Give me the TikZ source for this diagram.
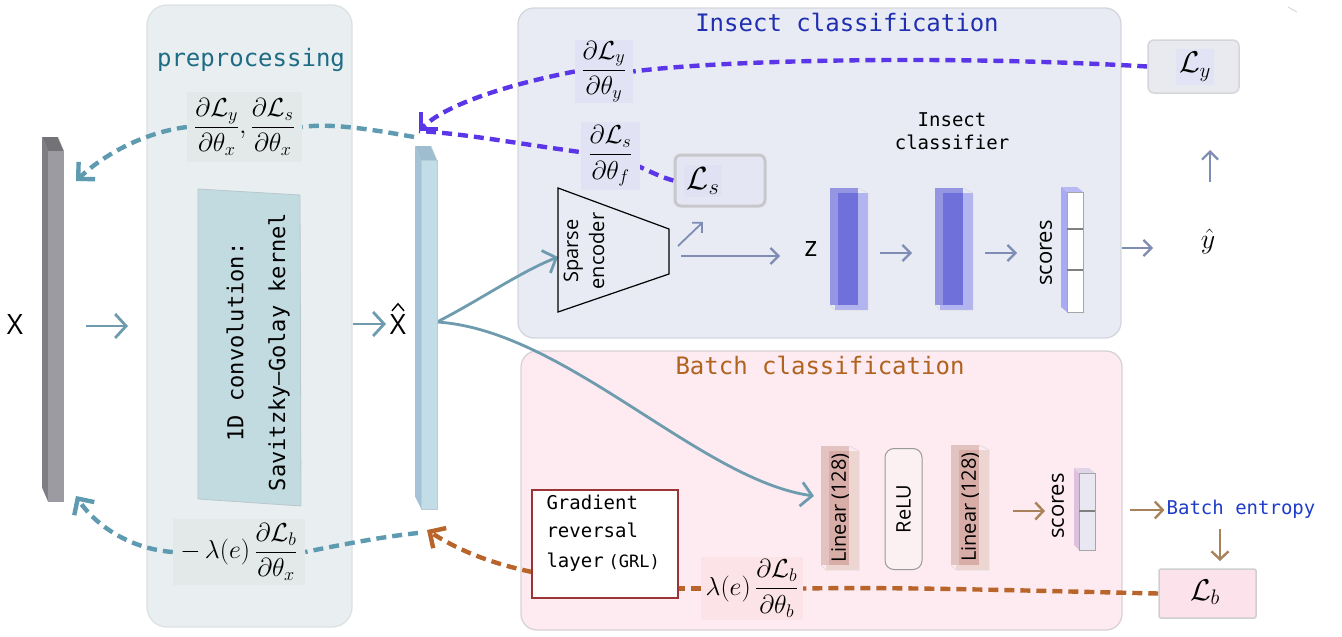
\RequirePackage{fix-cm}
\documentclass[tikz,border=0pt]{standalone}
\usepackage{amsmath}
\usepackage{fontspec}
\setsansfont{Open Sans}
\setmonofont{DejaVu Sans Mono}
\usetikzlibrary{arrows.meta,calc}
\pgfdeclarelayer{panels}
\pgfdeclarelayer{links}
\pgfsetlayers{panels,links,main}
\definecolor{prepF}{HTML}{E9EFF0}\definecolor{prepB}{HTML}{DCE2E3}
\definecolor{insF}{HTML}{E9EBF4}\definecolor{insB}{HTML}{D5D6DD}
\definecolor{batF}{HTML}{FDEBF1}\definecolor{batB}{HTML}{D9D2D5}
\definecolor{prepT}{HTML}{1E6B86}\definecolor{insT}{HTML}{1F2FB0}
\definecolor{batT}{HTML}{B0621F}\definecolor{entT}{HTML}{1E3CC8}
\definecolor{tealD}{HTML}{5E9AB0}\definecolor{tealS}{HTML}{6E9BAD}
\definecolor{purp}{HTML}{5B36E8}\definecolor{orng}{HTML}{B8642A}
\definecolor{gblue}{HTML}{7F8CB4}\definecolor{brn}{HTML}{A8825A}
\definecolor{convF}{HTML}{C1DBE0}\definecolor{convB}{HTML}{B8C8CC}
\definecolor{grlB}{HTML}{9B3535}
\definecolor{gbox}{HTML}{E3E8E9}\definecolor{ibox}{HTML}{E1E3F4}\definecolor{pbox}{HTML}{FBE3E7}
\definecolor{ibL}{HTML}{9496E4}\definecolor{ibD}{HTML}{6F70D9}\definecolor{ibR}{HTML}{B2B4EF}
\definecolor{lbL}{HTML}{E3C3BF}\definecolor{lbD}{HTML}{D9ADA7}\definecolor{lbR}{HTML}{EDD5D2}
\definecolor{xF}{HTML}{9C9BA1}\definecolor{xS}{HTML}{7F7E84}\definecolor{xT}{HTML}{737277}
\definecolor{hF}{HTML}{C2DDE7}\definecolor{hS}{HTML}{A4C3D6}\definecolor{hT}{HTML}{9EBED0}\definecolor{hB}{HTML}{B8CCD4}
\definecolor{lsB}{HTML}{C8C8CC}\definecolor{lsF}{HTML}{E4E6F3}\definecolor{lsH}{HTML}{E0E2F4}
\definecolor{lyB}{HTML}{D6D6DA}\definecolor{lyF}{HTML}{E9EAF0}\definecolor{lyH}{HTML}{E2E4F6}
\definecolor{lbB}{HTML}{CFCFCF}\definecolor{lbF}{HTML}{FCE3EB}
\definecolor{s1S}{HTML}{A9ABF2}\definecolor{s1T}{HTML}{B8B9F5}
\definecolor{s2S}{HTML}{DDC0DD}\definecolor{s2T}{HTML}{E2D4E8}\definecolor{s2F}{HTML}{E9E7F2}
\definecolor{reluF}{HTML}{FBF0F2}
\newcommand\fsz[2]{\fontsize{#1}{#2}\selectfont}
% 3D bar: #1 x0, #2 y0, #3 height, #4 light, #5 dark, #6 right, #7 name
\newcommand\mybar[7]{%
  \fill[#6] (#1+5,#2+5) rectangle (#1+38,#2+#3);
  \fill[#4] (#1,#2) -- (#1+28,#2) -- (#1+28,#2+#3-5) -- (#1,#2+#3-5) -- cycle;
  \node[fill=#5, inner sep=0, minimum width=20pt, minimum height={#3pt-10pt}, anchor=north west] (#7) at (#1+8,#2+5) {};
  \draw[white!70!gray, line width=0.5pt] (#1+28,#2) -- (#1+38,#2+5) -- (#1+38,#2+#3) -- (#1+5,#2+#3) -- (#1,#2+#3-5);
}
\begin{document}
\begin{tikzpicture}[x=1pt,y=-1pt,
  dteal/.style={draw=tealD, line width=4.4pt, dash pattern=on 10pt off 6pt},
  dpurp/.style={draw=purp, line width=4.4pt, dash pattern=on 10pt off 6pt},
  dorng/.style={draw=orng, line width=4.4pt, dash pattern=on 10pt off 6pt},
  bigtip/.style={-{Straight Barb[length=12pt,width=24pt]}},
  tarrow/.style={draw=tealS, line width=2.8pt, -{Straight Barb[length=11pt,width=24pt]}},
  garrow/.style={draw=gblue, line width=2.2pt, -{Straight Barb[length=8pt,width=16pt]}},
  barrow/.style={draw=brn, line width=2.4pt, -{Straight Barb[length=8pt,width=17pt]}},
  panel/.style={rounded corners=20pt, line width=1.3pt, inner sep=0},
  flab/.style={inner sep=0, font=\fsz{26}{30}},
  mono/.style={font=\ttfamily\fsz{#1}{#1}},
  sans/.style={font=\sffamily\fsz{#1}{26}},
]
\useasboundingbox (0,0) rectangle (1342,637);

% ---------- panels ----------
\begin{pgfonlayer}{panels}
\node[panel, draw=prepB, fill=prepF, minimum width=205pt, minimum height=622pt] (prep) at (249.5,316) {};
\node[panel, rounded corners=16pt, draw=insB, fill=insF, minimum width=603pt, minimum height=330pt] (insect) at (819.5,173) {};
\node[panel, rounded corners=16pt, draw=batB, fill=batF, minimum width=601pt, minimum height=279pt] (batch) at (821.5,490.5) {};
\end{pgfonlayer}

\node[mono=24, text=prepT] (tprep) at (251,60) {preprocessing};
\node[mono=24, text=insT] (tins) at (847,22) {Insect classification};
\node[mono=24, text=batT] (tbat) at (820,365) {Batch classification};

% ---------- X bar ----------
\fill[xS] (42,137) -- (48,151) -- (48,502) -- (42,488) -- cycle;
\fill[white] (42,488) -- (48,502) -- (42,502) -- cycle;
\fill[xT] (42,137) -- (58,137) -- (64,151) -- (48,151) -- cycle;
\draw[white!70!gray, line width=0.5pt] (58,137) -- (64,151);
\node[fill=xF, inner sep=0, minimum width=16pt, minimum height=351pt] (xbar) at (56,326.5) {};
\node[sans=28] (xlab) at (15,325) {X};

% ---------- preprocessing ----------
\draw[fill=convF, draw=convB, line width=0.8pt] (198,189) -- (300,195) -- (301,506) -- (198,499) -- cycle;
\node[mono=22, rotate=90] (conv1) at (235,342) {1D convolution:};
\node[mono=22, rotate=90] (conv2) at (279,352) {Savitzky–Golay kernel};

\coordinate (a1s) at (86,326); \coordinate (a1e) at (128,326);
\draw[tarrow] (a1s) -- (a1e);
\coordinate (a2s) at (353,324); \coordinate (a2e) at (386,324);
\draw[tarrow] (a2s) -- (a2e);

% ---------- X hat bar ----------
\fill[hS] (415,146) -- (421,160) -- (421,509) -- (415,497) -- cycle;
\fill[white] (415,497) -- (421,509) -- (415,509) -- cycle;
\fill[hT] (415,146) -- (431,146) -- (437,160) -- (421,160) -- cycle;
\draw[white!70!gray, line width=0.5pt] (431,146) -- (437,160);
\node[fill=hF, draw=hB, line width=0.5pt, inner sep=0, minimum width=16pt, minimum height=349pt] (xhat) at (429,334.5) {};
\node[sans=28, inner sep=1pt] (xhatlab) at (398,325) {X};
\draw[line width=1.4pt, line join=miter] ($(xhatlab.north)+(-6,-3)$) -- ($(xhatlab.north)+(0,-10)$) -- ($(xhatlab.north)+(6,-3)$);

% ---------- gradient labels ----------
\node[flab, fill=gbox, minimum width=115pt, minimum height=70pt] (gx) at (244.5,127)
  {$\dfrac{\partial\mathcal{L}_y}{\partial\theta_x},\dfrac{\partial\mathcal{L}_s}{\partial\theta_x}$};
\node[flab, fill=gbox, minimum width=132pt, minimum height=66pt] (bx) at (239,552)
  {$-\,\lambda(e)\,\dfrac{\partial\mathcal{L}_b}{\partial\theta_x}$};
\node[flab, fill=ibox, minimum width=58pt, minimum height=63pt] (lyl) at (604,71.5)
  {$\dfrac{\partial\mathcal{L}_y}{\partial\theta_y}$};
\node[flab, fill=ibox, minimum width=59pt, minimum height=68pt] (lsl) at (610.5,156)
  {$\dfrac{\partial\mathcal{L}_s}{\partial\theta_f}$};
\node[flab, fill=pbox, minimum width=102pt, minimum height=63pt] (lam) at (752,588.5)
  {$\lambda(e)\,\dfrac{\partial\mathcal{L}_b}{\partial\theta_b}$};

% ---------- insect classification ----------
\draw[line width=1.2pt] (558,188) -- (669,229) -- (669,274) -- (558,312) -- cycle;
\coordinate (encL) at (558,257);
\node[sans=20, rotate=90, align=center] (enc) at (584,251) {Sparse\\encoder};
\node[draw=lsB, fill=lsF, line width=3pt, rounded corners=6pt, minimum width=90pt, minimum height=51pt] (Ls) at (720,180.5) {};
\node[flab, fill=lsH, inner sep=3pt, font=\fsz{32}{36}] (lstext) at (703,181) {$\mathcal{L}_s$};
\coordinate (sa1) at (678,246); \coordinate (sa2) at (703,222);
\draw[garrow, line width=1.8pt, -{Straight Barb[length=7pt,width=14pt]}] (sa1) -- (sa2);
\coordinate (ea1) at (681,256); \coordinate (ea2) at (780,256);
\draw[garrow] (ea1) -- (ea2);
\node[sans=28] (z) at (811,249) {z};
\mybar{830}{188}{122}{ibL}{ibD}{ibR}{z1}
\mybar{935}{188}{122}{ibL}{ibD}{ibR}{z2}
\coordinate (i1s) at (880,253); \coordinate (i1e) at (912,253);
\draw[garrow] (i1s) -- (i1e);
\coordinate (i2s) at (985,253); \coordinate (i2e) at (1017,253);
\draw[garrow] (i2s) -- (i2e);
\node[sans=22, rotate=90] (sc1t) at (1046,253) {scores};
\fill[s1S] (1061,187) -- (1067,192) -- (1067,312) -- (1061,307) -- cycle;
\fill[s1T] (1061,187) -- (1077,187) -- (1083,192) -- (1067,192) -- cycle;
\node[fill=white, draw=gray!70, line width=0.6pt, inner sep=0, minimum width=16pt, minimum height=120pt] (sc1) at (1075,252) {};
\draw[gray, line width=2pt] (1067,229) -- (1083,229) (1067,270) -- (1083,270);
\node[align=center, font=\ttfamily\fsz{19}{23}] (icl) at (952,131) {Insect\\classifier};
\coordinate (yo) at (1122,248);
\node[font=\fsz{28}{30}] (yhat) at (1208,241) {$\hat{y}$};
\draw[garrow] (yo) -- (1153,248);
\node[draw=lyB, fill=lyF, line width=1.5pt, rounded corners=6pt, minimum width=91pt, minimum height=53pt] (Ly) at (1193.5,66.5) {};
\node[flab, fill=lyH, inner sep=3pt, font=\fsz{30}{34}] (lytext) at (1195,67) {$\mathcal{L}_y$};
\coordinate (u1) at (1210,182); \coordinate (u2) at (1210,150);
\draw[garrow] (u1) -- (u2);

% ---------- batch classification ----------
\node[draw=grlB, fill=white, line width=1.8pt, minimum width=146pt, minimum height=108pt] (grl) at (605,544) {};
\node[anchor=base west, font=\ttfamily\fsz{19}{23}] (grl1) at (543,509) {Gradient};
\node[anchor=base west, font=\ttfamily\fsz{19}{23}] (grl2) at (543,537) {reversal};
\node[anchor=base west, font=\ttfamily\fsz{19}{23}] (grl3) at (543,567) {layer\hspace{5pt}{\fsz{17}{20}(GRL)}};
\mybar{821}{446}{124}{lbL}{lbD}{lbR}{lin1}
\mybar{951}{445}{125}{lbL}{lbD}{lbR}{lin2}
\node[sans=20, rotate=90] (lin1t) at (840,508) {Linear (128)};
\node[sans=20, rotate=90] (lin2t) at (970,507) {Linear (128)};
\node[draw=gray!80, fill=reluF, line width=1pt, rounded corners=9pt, rotate=90, minimum width=121pt, minimum height=37pt, inner sep=0, sans=20] (relu) at (903.5,509) {ReLU};
\coordinate (b1s) at (1013,511); \coordinate (b1e) at (1045,511);
\draw[barrow] (b1s) -- (b1e);
\node[sans=22, rotate=90] (sc2t) at (1058,506) {scores};
\fill[s2S] (1074,468) -- (1079,473) -- (1079,550) -- (1074,545) -- cycle;
\fill[s2T] (1074,468) -- (1089,468) -- (1095,473) -- (1079,473) -- cycle;
\node[fill=s2F, draw=gray!70, line width=0.6pt, inner sep=0, minimum width=16pt, minimum height=77pt] (sc2) at (1087,511.5) {};
\draw[gray, line width=2pt] (1079,511) -- (1095,511);
\node[font=\ttfamily\fsz{19}{23}, text=entT, inner sep=2pt] (bent) at (1241,509) {Batch entropy};
\coordinate (b2s) at (1130,510);
\draw[barrow] (b2s) -- (bent.west |- b2s);
\node[draw=lbB, fill=lbF, line width=1.5pt, rounded corners=2pt, minimum width=97pt, minimum height=49pt] (Lb) at (1207.5,593.5) {};
\node[flab, font=\fsz{30}{34}] (lbtext) at (1205,592) {$\mathcal{L}_b$};
\coordinate (d1) at (1220,529); \coordinate (d2) at (1220,561);
\draw[barrow] (d1) -- (d2);

% ---------- connectors (under labels) ----------
\coordinate (xhtop) at (414,137);
\coordinate (xhbot) at (418,533);
\coordinate (tipTop) at (76,181);
\coordinate (tipBot) at (76,496);
\coordinate (tipP) at (419,131);
\coordinate (tipO) at (427,530);
\coordinate (xo) at (437,322);
\coordinate (grlL) at (532,572);
\coordinate (linIn) at (814,496);
\begin{pgfonlayer}{links}
\draw[dteal] (xhtop) .. controls (370,129) and (330,123) .. (gx.east);
\draw[dteal, bigtip] (gx.west) .. controls (140,133) and (100,158) .. (tipTop);
\draw[dteal] (xhbot) .. controls (380,537) and (340,545) .. (bx.east);
\draw[dteal, bigtip] (bx.west) .. controls (130,549) and (95,525) .. (tipBot);
\draw[dorng] (Lb.west) .. controls (1000,590) and (900,587) .. (lam.east);
\draw[dorng] (lam.west) -- (grl.east |- lam.west);
\draw[dorng, bigtip] (grlL) .. controls (485,562) and (455,548) .. (tipO);
\draw[dpurp] (Ly.west) .. controls (950,55) and (720,60) .. (lyl.east);
\draw[dpurp, bigtip] (lyl.west) .. controls (520,82) and (448,102) .. (tipP);
\draw[dpurp] (Ls.west) .. controls (655,176) and (630,160) .. (lsl.center);
\draw[dpurp] (lsl.center) .. controls (530,146) and (470,134) .. (tipP);
\draw[tarrow] (xo) .. controls (480,300) and (520,272) .. (encL);
\draw[tarrow] (xo) .. controls (565,330) and (700,480) .. (linIn);
\end{pgfonlayer}
\draw[gray!35, line width=0.8pt] (1288,7) -- (1297,12);
\end{tikzpicture}
\end{document}
